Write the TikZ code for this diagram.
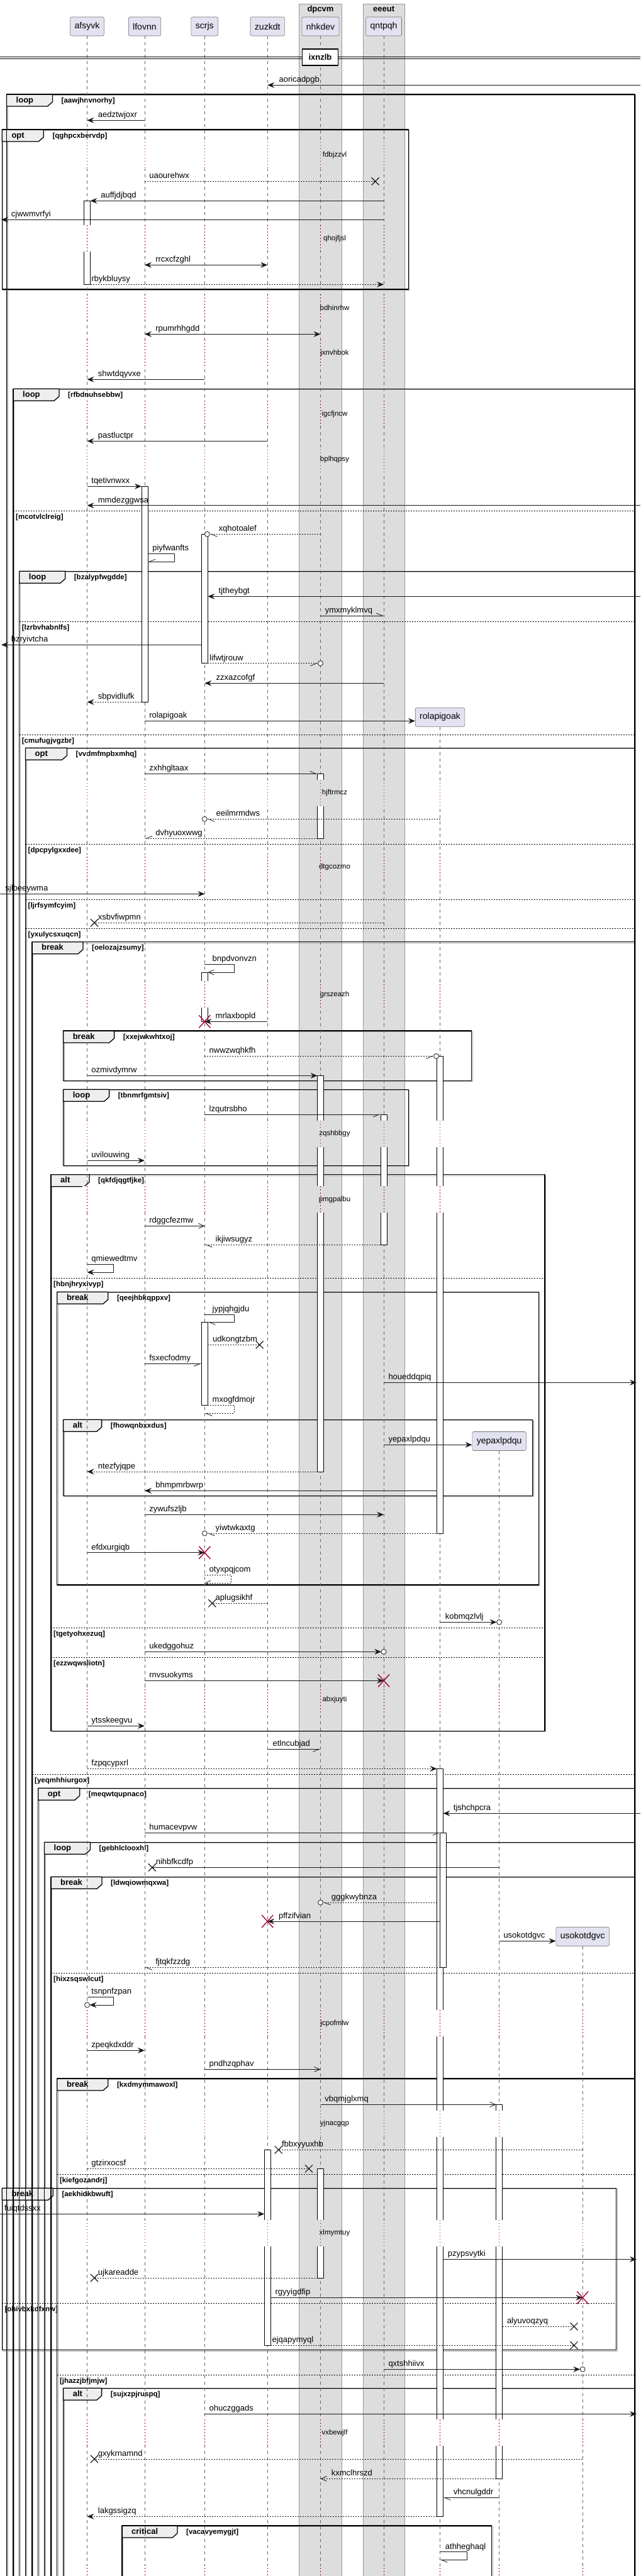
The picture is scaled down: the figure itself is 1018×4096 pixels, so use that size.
\documentclass[tikz,border=0pt]{standalone}
\usepackage{fontspec}
\setmainfont{Liberation Sans}
\usetikzlibrary{arrows.meta}
\definecolor{boxgray}{HTML}{DDDDDD}
\definecolor{headfill}{HTML}{E2E2F0}
\definecolor{tabfill}{HTML}{EEEEEE}
\definecolor{crim}{HTML}{A80036}
\begin{document}
\begin{tikzpicture}[x=1pt, y=-1pt, line join=round,
  head/.style={draw=black!55, fill=headfill, rounded corners=2.5pt, minimum height=30pt, inner xsep=7pt, line width=0.6pt, font=\fontsize{14}{16}\selectfont},
  grp/.style={fill=boxgray, draw=black!40, line width=0.5pt},
  grptitle/.style={anchor=base, inner sep=0pt, font=\fontsize{13}{15}\selectfont\bfseries},
  life/.style={draw=black!60, line width=0.6pt, dash pattern=on 5pt off 5pt},
  gap/.style={draw=crim, line width=0.8pt, dash pattern=on 1.5pt off 3.5pt},
  act/.style={draw=black, fill=white, line width=0.7pt},
  frame/.style={draw=black, line width=1.3pt},
  frameshadow/.style={draw=black!35, line width=1.3pt},
  tab/.style={draw=black, fill=tabfill, line width=1.3pt},
  kw/.style={anchor=base west, inner sep=0pt, font=\fontsize{13}{15}\selectfont\bfseries},
  cond/.style={anchor=base west, inner sep=0pt, font=\fontsize{11.5}{13}\selectfont\bfseries},
  sep/.style={draw=black, line width=0.8pt, dash pattern=on 2pt off 2pt},
  lbl/.style={anchor=base west, inner sep=0pt, yshift=4.5pt, font=\fontsize{13}{15}\selectfont},
  dly/.style={inner sep=0pt, font=\fontsize{11.5}{13}\selectfont},
  msg/.style={draw=black!90, line width=0.8pt},
  dots/.style={dash pattern=on 2pt off 2pt},
  mfull/.style={msg, -{Stealth[length=11pt,width=9pt,inset=4pt]}},
  mfulld/.style={mfull, dots},
  mtwin/.style={msg, {Stealth[length=11pt,width=9pt,inset=4pt]}-{Stealth[length=11pt,width=9pt,inset=4pt]}},
  mbarb/.style={msg, -{Straight Barb[length=9pt,width=8pt]}},
  mbarbd/.style={mbarb, dots},
  mhl/.style={msg, -{Straight Barb[harpoon,length=10pt,width=8pt]}},
  mhld/.style={mhl, dots},
  mhr/.style={msg, -{Straight Barb[harpoon,swap,length=10pt,width=8pt]}},
  mhrd/.style={mhr, dots},
  mbare/.style={msg},
  mbared/.style={msg, dots},
  ring/.style={draw=black!90, fill=white, line width=0.8pt},
  xmark/.style={draw=black!90, line width=1.2pt},
  kill/.style={draw=crim, line width=1.4pt}]
\useasboundingbox (0,0) rectangle (1018,4096);
\clip (0,0) rectangle (1018,4096);
% boxes
\draw[grp] (475.5,6) rectangle (543.4,4110);
\draw[grp] (577,6) rectangle (643.4,4110);
\node[grptitle] at (509.5,18.5) {dpcvm};
\node[grptitle] at (610.1,18.5) {eeeut};
% participants
\foreach \n/\x in {afsyvk/138.5, lfovnn/229.9, scrjs/325.3, zuzkdt/425.2, nhkdev/509.5, qntpqh/610.1}
  \node[head] (\n) at (\x,42) {\n};
\node[head] (rolapigoak) at (699.5,1140.3) {rolapigoak};
\node[head] (yepaxlpdqu) at (793.6,2291.5) {yepaxlpdqu};
\node[head] (usokotdgvc) at (926.2,3079.2) {usokotdgvc};
\coordinate (ledge) at (0,0);
\coordinate (redge) at (1018,0);
% groups
\def\groups{10.5/150/1009/4110/loop/73/aawjhnvnorhy, 3.3/206/649.2/460/opt/66/qghpcxbervdp,
  21/618.3/1009/4110/loop/73/rfbdnuhsebbw, 30.7/908.3/1009/4110/loop/73/bzalypfwgdde,
  40.5/1189.3/1009/4110/opt/66/vvdmfmpbxmhq, 51/1497.7/1009/4110/break/81/oelozajzsumy,
  100.6/1639/749.8/1718.3/break/81/xxejwkwhtxoj, 100.6/1732.3/649.2/1853.3/loop/73/tbnmrfgmtsiv,
  81/1867.7/866/2752.3/alt/61/qkfdjqgtfjke, 90.8/2054.3/856.3/2520/break/81/qeejhbkqppxv,
  100.6/2257.3/846.5/2378.3/alt/61/fhowqnbxxdus, 60.7/2843.3/1009/4110/opt/66/meqwtqupnaco,
  70.5/2929.3/1009/4110/loop/73/gebhlclooxhl, 81/2984.3/1009/4110/break/81/ldwqiowmqxwa,
  90.8/3305/1009/4110/break/81/kxdmymmawoxl, 3.3/3479.3/979.8/3736.7/break/81/aekhidkbwuft,
  100.6/3797.3/1009/4110/alt/61/sujxzpjruspq, 194/4016/781.8/4110/critical/88/vacavyemygjt}
\foreach \l/\t/\r/\b/\k/\w/\c in \groups
  \draw[frameshadow] (\l+1.5,\t+1.5) rectangle (\r+1.5,\b+1.5);
\foreach \l/\t/\r/\b/\k/\w/\c in \groups
{\draw[tab] (\l,\t) -- (\l+\w,\t) -- (\l+\w,\t+12) -- (\l+\w-8,\t+19) -- (\l,\t+19) -- cycle;
 \node[kw] at (\l+15,\t+13) {\k};
 \node[cond] at (\l+\w+14,\t+13) {[\c]};}
\foreach \l/\t/\r/\b/\k/\w/\c in \groups
  \draw[frame] (\l,\t) rectangle (\r,\b);
\foreach \l/\r/\y/\c in {21/1009/812.3/mcotvlclreig, 30.7/1009/988.3/lzrbvhabnlfs, 30.7/1009/1168.3/cmufugjvgzbr,
  40.5/1009/1342.3/dpcpylgxxdee, 40.5/1009/1430.3/ljrfsymfcyim, 40.5/1009/1476.3/yxulycsxuqcn,
  81/866/2032.3/hbnjhryxivyp, 81/866/2588.3/tgetyohxezuq, 81/866/2635.3/ezzwqwsliotn,
  51/1009/2821/yeqmhhiurgox, 81/1009/3137.3/hixzsqswlcut, 90.8/1009/3457.3/kiefgozandrj,
  3.3/979.8/3662.3/ohivbxkdfxnw, 90.8/1009/3776.3/jhazzjbfjmjw}
{\draw[sep] (\l,\y) -- (\r,\y);
 \node[cond] at (\l+4,\y+13) {[\c]};}
% lifelines and activations
\foreach \n in {afsyvk, lfovnn, scrjs, zuzkdt, nhkdev, qntpqh, rolapigoak, yepaxlpdqu, usokotdgvc}
  \draw[life] (\n.south) -- (\n |- 0,4110);
\foreach \n/\dx/\ya/\yb in {afsyvk/0/319.3/452.3, lfovnn/0/773.3/1116.3, scrjs/0/849.3/1054.7, nhkdev/0/1230.3/1333.3,
  scrjs/0/1546/1624.3, rolapigoak/0/1679.3/2438, nhkdev/0/1710.3/2340, qntpqh/0/1772/1979, scrjs/0/2102.3/2234.3,
  rolapigoak/0/2812.3/4001.3, rolapigoak/5/2914.3/3128.3, yepaxlpdqu/0/3346.3/3941.3, zuzkdt/0/3418.3/3729.3,
  nhkdev/0/3448.3/3622}
  \draw[act] ([xshift=\dx-5]\n |- 0,\ya) rectangle ([xshift=\dx+5]\n |- 0,\yb);
% delays
\foreach \y/\txt in {246.7/fdbjzzvl, 379.3/qhojfjsl, 489.3/bdhinrhw, 561.3/jxnvhbok, 658.3/igcfjncw, 730.7/bplhqpsy,
  1260.7/hjftrmcz, 1378.3/dtgcozmo, 1581.3/grszeazh, 1802.7/zqshbbgy, 1907.3/pmgpalbu, 2702/abxjuyti,
  3217.3/jcpofmlw, 3376.7/yjnacgqp, 3550.7/xlmymtuy, 3868.3/vxbewjlf, 4099/{}}
{\foreach \n/\c/\since in {afsyvk/white/0, lfovnn/white/0, scrjs/white/0, zuzkdt/white/0, nhkdev/boxgray/0,
    qntpqh/boxgray/0, rolapigoak/white/1160, yepaxlpdqu/white/2310, usokotdgvc/white/3100}
  {\ifdim\y pt>\since pt
     \fill[\c] ([xshift=-8]\n |- 0,\y-21) rectangle ([xshift=8]\n |- 0,\y+21);
     \draw[gap] (\n |- 0,\y-21) -- (\n |- 0,\y+21);
   \fi}
 \node[dly] at (532,\y) {\txt};}
% messages
\foreach \yy/\from/\dfrom/\tgt/\dtgt/\sty/\ps/\lx/\txt in {
  135.3/redge/0/zuzkdt/0/mfull/1/18/aoricadpgb, 191.3/lfovnn/0/afsyvk/0/mfull/1/17/aedztwjoxr,
  288.3/lfovnn/0/qntpqh/-13.5/mbared/0/7/uaourehwx, 319.3/qntpqh/0/afsyvk/5/mfull/1/16.5/auffjdjbqd,
  349.3/qntpqh/0/ledge/2/mfull/1/15.5/cjwwmvrfyi, 421.3/lfovnn/0/zuzkdt/0/mtwin/0/17/rrcxcfzghl,
  452.3/afsyvk/5/qntpqh/0/mfulld/0/1.5/rbykbluysy, 531.3/lfovnn/0/nhkdev/0/mtwin/0/17/rpumrhhgdd,
  603.3/scrjs/0/afsyvk/0/mfull/1/17/shwtdqyvxe, 701.3/zuzkdt/0/afsyvk/0/mfull/1/17/pastluctpr,
  773.3/afsyvk/0/lfovnn/-5/mfull/0/6.5/tqetivnwxx, 803.7/redge/0/afsyvk/0/mfull/1/17/mmdezggwsa,
  849.3/nhkdev/0/scrjs/8/mhld/1/14/xqhotoalef, 948.3/redge/0/scrjs/5/mfull/1/17/tjtheybgt,
  979/nhkdev/0/qntpqh/0/mhl/0/7/ymxmyklmvq, 1025.3/scrjs/-5/ledge/2/mfull/1/15.5/hzryivtcha,
  1054.7/scrjs/5/nhkdev/-4/mhrd/0/2.5/lifwtjrouw, 1086.3/qntpqh/0/scrjs/0/mfull/1/18/zzxazcofgf,
  1116.3/lfovnn/-5/afsyvk/0/mfulld/1/17/sbpvidlufk, 1146.3/lfovnn/0/rolapigoak.west/0/mfull/0/7/rolapigoak,
  1230.3/lfovnn/0/nhkdev/-5/mhl/0/7/zxhhgltaax, 1302.3/rolapigoak/0/scrjs/4/mhld/1/14/eeilmrmdws,
  1333.3/nhkdev/-5/lfovnn/0/mhrd/1/17/dvhyuoxwwg, 1421.3/ledge/0/scrjs/0/mfull/0/8/sjlbeeywma,
  1467.3/qntpqh/0/afsyvk/11.5/mbared/1/5.5/xsbvfiwpmn, 1624.3/zuzkdt/0/scrjs/0/mfull/1/17/mrlaxbopld,
  1679.3/scrjs/0/rolapigoak/-10/mhrd/0/7/nwwzwqhkfh, 1710.3/afsyvk/0/nhkdev/-5/mfull/0/6.5/ozmivdymrw,
  1772/scrjs/0/qntpqh/-5/mhr/0/7/lzqutrsbho, 1845.3/afsyvk/0/lfovnn/0/mfull/0/6.5/uvilouwing,
  1949.3/lfovnn/0/scrjs/0/mbarb/0/7/rdggcfezmw, 1979/qntpqh/-5/scrjs/0/mhld/1/17/ikjiwsugyz,
  2138.3/scrjs/5/zuzkdt/-12.5/mbared/0/7.4/udkongtzbm, 2168.3/lfovnn/0/scrjs/-5/mhr/0/7/fsxecfodmy,
  2198.3/qntpqh/0/redge/-6/mfull/0/7/houeddqpiq, 2297.3/qntpqh/0/yepaxlpdqu.west/0/mfull/0/7/yepaxlpdqu,
  2340/nhkdev/5/afsyvk/0/mfulld/1/17/ntezfyjqpe, 2370.3/rolapigoak/-5/lfovnn/0/mfull/1/17/bhmpmrbwrp,
  2408.3/lfovnn/0/qntpqh/0/mfull/0/7/zywufszljb, 2438/rolapigoak/5/scrjs/4/mhld/1/13/yiwtwkaxtg,
  2468.7/afsyvk/0/scrjs/0/mfull/0/6.5/efdxurgiqb, 2549.3/zuzkdt/0/scrjs/12/mbared/1/5/aplugsikhf,
  2579.3/rolapigoak/0/yepaxlpdqu/-4/mfull/0/8/kobmqzlvlj, 2626.3/lfovnn/0/qntpqh/-4/mfull/0/7/ukedggohuz,
  2672.3/lfovnn/0/qntpqh/0/mfull/0/7/rnvsuokyms, 2744.3/afsyvk/0/lfovnn/0/mfull/0/6.5/ytsskeegvu,
  2781.3/zuzkdt/0/nhkdev/0/mhr/0/8/etlncubjad, 2812.3/afsyvk/0/rolapigoak/-5/mfulld/0/6.5/fzpqcypxrl,
  2883.3/redge/0/rolapigoak/5/mfull/1/16/tjshchpcra, 2914.3/lfovnn/0/rolapigoak/0/mhr/0/7/humacevpvw,
  2969.3/yepaxlpdqu/0/lfovnn/12/mbare/1/5.5/nihbfkcdfp, 3025/rolapigoak/-5/nhkdev/4/mhld/1/13/gggkwybnza,
  3055/rolapigoak/0/zuzkdt/0/mfull/1/17.5/pffzifvian, 3086.3/yepaxlpdqu/0/usokotdgvc.west/0/mfull/0/6.5/usokotdgvc,
  3128.3/rolapigoak/0/lfovnn/0/mhld/1/17/fjtqkfzzdg, 3260.3/afsyvk/0/lfovnn/0/mfull/0/6.5/zpeqkdxddr,
  3290.3/scrjs/0/nhkdev/0/mbarb/0/7/pndhzqphav, 3346.3/nhkdev/0/yepaxlpdqu/-5/mbarb/0/6.5/vbqmjglxmq,
  3418.3/usokotdgvc/0/zuzkdt/17.5/mbared/1/5/fbbxyyuxhb, 3448.3/afsyvk/0/nhkdev/-18.5/mbared/0/6.5/gtzirxocsf,
  3520.3/ledge/0/zuzkdt/-5/mfull/0/6.5/fuiqtdssxx, 3592.3/rolapigoak/5/redge/-6/mfull/0/7/pzypsvytki,
  3622/nhkdev/-5/afsyvk/11.5/mbared/1/5.5/ujkareadde, 3653.3/zuzkdt/5/usokotdgvc/0/mfull/0/7/rgyyigdfip,
  3699.3/yepaxlpdqu/5/usokotdgvc/-13.7/mbared/0/7/alyuvoqzyq, 3729.3/zuzkdt/5/usokotdgvc/-13.7/mbared/0/2/ejqapymyql,
  3767.3/qntpqh/0/usokotdgvc/-4/mfull/0/7/qxtshhiivx, 3838.3/scrjs/0/redge/-6/mfull/0/7/ohuczggads,
  3910/usokotdgvc/0/afsyvk/11.5/mbared/1/5.5/gxykrnamnd, 3941.3/yepaxlpdqu/-5/nhkdev/0/mbarbd/1/17/kxmclhrszd,
  3971.3/yepaxlpdqu/0/rolapigoak/5/mhl/1/16/vhcnulgddr, 4001.3/rolapigoak/-5/afsyvk/0/mfulld/1/17/lakgssigzq}
  \draw[\sty] ([xshift=\dfrom]\from |- 0,\yy) -- node[lbl, pos=\ps, xshift=\lx] {\txt} ([xshift=\dtgt]\tgt |- 0,\yy);
% self messages
\draw[mhr] ([xshift=5]lfovnn |- 0,880.3) -- node[lbl, pos=0, xshift=7] {piyfwanfts} ++(42,0) -- ++(0,13) -- ([xshift=5]lfovnn |- 0,893.3);
\draw[mbarb] (scrjs |- 0,1533.3) -- node[lbl, pos=0, xshift=12] {bnpdvonvzn} ++(47,0) -- ++(0,12.7) -- ([xshift=5]scrjs |- 0,1546);
\draw[mfull] (afsyvk |- 0,2010.3) -- node[lbl, pos=0, xshift=6.5] {qmiewedtmv} ++(42,0) -- ++(0,12.7) -- (afsyvk |- 0,2023);
\draw[mhl] (scrjs |- 0,2090) -- node[lbl, pos=0, xshift=12] {jypjqhgjdu} ++(47,0) -- ++(0,12.3) -- ([xshift=5]scrjs |- 0,2102.3);
\draw[mhld] ([xshift=5]scrjs |- 0,2234.3) -- node[lbl, pos=0, xshift=7] {mxogfdmojr} ++(42,0) -- ++(0,13) -- (scrjs |- 0,2247.3);
\draw[mbarbd] (scrjs |- 0,2504.3) -- node[lbl, pos=0, xshift=7] {otyxpqjcom} ++(42.4,0) -- ++(0,12.7) -- (scrjs |- 0,2517);
\draw[mfull] (afsyvk |- 0,3175.3) -- node[lbl, pos=0, xshift=6.5] {tsnpnfzpan} ++(42,0) -- ++(0,12.7) -- ([xshift=4]afsyvk |- 0,3188);
\draw[mhl] (rolapigoak |- 0,4057.7) -- node[lbl, pos=0, xshift=8] {athheghaql} ++(42.5,0) -- ++(0,12.6) -- (rolapigoak |- 0,4070.3);
% ends
\foreach \n/\dx/\y in {scrjs/4/849.3, nhkdev/0/1054.7, scrjs/0/1302.3, rolapigoak/-6/1679.3, scrjs/0/2438,
  yepaxlpdqu/0/2579.3, qntpqh/0/2626.3, nhkdev/0/3025, afsyvk/0/3188, usokotdgvc/0/3767.3}
  \draw[ring] ([xshift=\dx]\n |- 0,\y) circle[radius=4];
\foreach \n/\dx/\y in {qntpqh/-13.5/288.3, afsyvk/11.5/1467.3, zuzkdt/-12.5/2138.3, scrjs/12/2549.3, lfovnn/12/2969.3,
  zuzkdt/17.5/3418.3, nhkdev/-18.5/3448.3, afsyvk/11.5/3622, usokotdgvc/-13.7/3699.3, usokotdgvc/-13.7/3729.3, afsyvk/11.5/3910}
  \draw[xmark] ([xshift=\dx]\n |- 0,\y) +(-6,-6) -- +(6,6) +(-6,6) -- +(6,-6);
\foreach \n/\y in {scrjs/1624.3, scrjs/2468.7, qntpqh/2672.3, zuzkdt/3055, usokotdgvc/3653.3}
  \draw[kill] (\n |- 0,\y) +(-9,-10) -- +(9,10) +(-9,10) -- +(9,-10);
% divider
\draw[line width=0.9pt] (ledge |- 0,90) -- (redge |- 0,90) (ledge |- 0,93.3) -- (redge |- 0,93.3);
\node[draw=black, fill=white, line width=1.4pt, minimum width=57pt, minimum height=26pt, font=\fontsize{13}{15}\selectfont\bfseries] (ixnzlb) at (509,91) {ixnzlb};
\end{tikzpicture}
\end{document}
